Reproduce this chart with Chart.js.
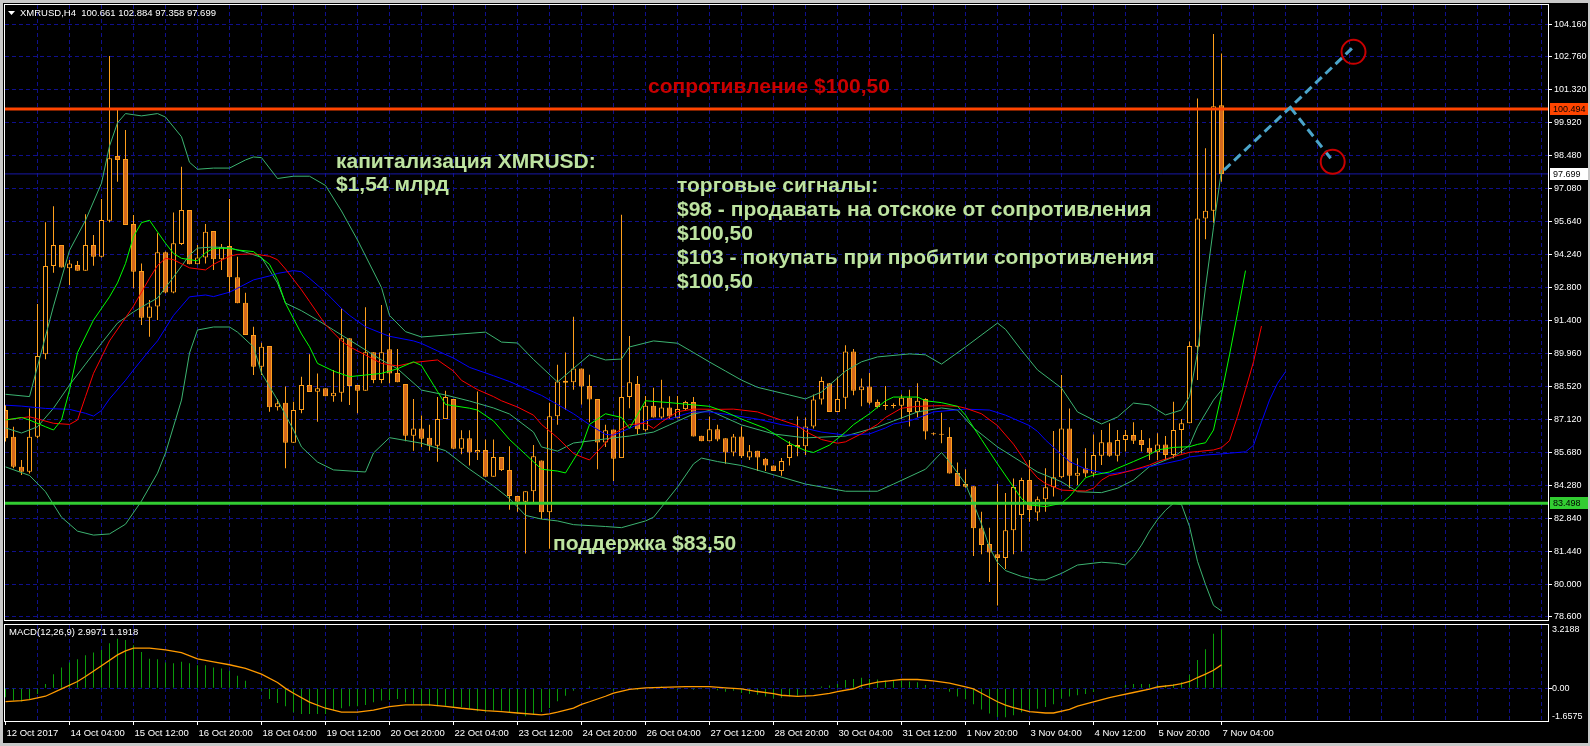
<!DOCTYPE html>
<html lang="ru">
<head>
<meta charset="utf-8">
<title>XMRUSD,H4</title>
<script src="https://cdn.jsdelivr.net/npm/chart.js@4.4.1/dist/chart.umd.min.js"></script>
<style>
  html, body { margin: 0; padding: 0; background: #c8c8c8; }
  #board { position: absolute; left: 3px; top: 3px; width: 1585px; height: 740px; background: #000; }
  canvas { position: absolute; left: 0; }
  #priceChart { top: 0; }
  #macdChart { top: 622px; }
</style>
</head>
<body>
<div id="board"></div>
<canvas id="priceChart" width="1590" height="622"></canvas>
<canvas id="macdChart" width="1590" height="124"></canvas>
<script>
// XMRUSD H4, 12 Oct 20:00 .. 7 Nov 04:00 2017, one bar = 4 hours, bar index used as x
const symbol = 'XMRUSD,H4';

const timeLabels = ['12 Oct 2017', '14 Oct 04:00', '15 Oct 12:00', '16 Oct 20:00', '18 Oct 04:00',
  '19 Oct 12:00', '20 Oct 20:00', '22 Oct 04:00', '23 Oct 12:00', '24 Oct 20:00', '26 Oct 04:00',
  '27 Oct 12:00', '28 Oct 20:00', '30 Oct 04:00', '31 Oct 12:00', '1 Nov 20:00', '3 Nov 04:00',
  '4 Nov 12:00', '5 Nov 20:00', '7 Nov 04:00'];
const barsPerLabel = 8;

const opens = [
  87.52, 86.37, 85.08, 84.86, 86.37, 89.92, 93.73, 94.63, 93.63, 93.77,
  93.53, 94.63, 94.13, 95.68, 98.47, 98.34, 95.54, 93.51, 91.50, 91.98,
  94.32, 92.59, 94.68, 96.14, 93.80, 94.10, 95.24, 94.02, 94.59, 93.24,
  92.15, 90.75, 89.39, 90.28, 87.64, 87.84, 86.11, 87.52, 88.60, 88.31,
  88.46, 88.12, 88.27, 90.61, 88.60, 88.35, 90.01, 88.81, 90.14, 89.12,
  88.64, 86.41, 86.73, 86.33, 85.98, 87.13, 88.00, 85.85, 86.30, 85.69,
  85.80, 84.65, 85.50, 84.94, 83.82, 83.57, 84.02, 85.34, 83.11, 87.25,
  88.78, 88.72, 89.31, 88.56, 88.00, 86.12, 86.68, 85.45, 88.08, 88.64,
  86.65, 87.71, 87.20, 87.63, 87.17, 87.56, 87.87, 86.41, 86.17, 86.69,
  86.30, 85.69, 86.38, 85.48, 85.77, 85.42, 85.13, 84.89, 85.45, 86.01,
  85.96, 86.81, 87.97, 88.67, 87.44, 88.05, 90.04, 88.37, 88.53, 87.87,
  87.73, 87.72, 87.71, 88.05, 87.44, 88.00, 86.50, 86.48, 86.36, 84.81,
  84.33, 84.24, 82.42, 81.75, 81.30, 81.14, 82.34, 83.00, 84.50, 83.10,
  83.67, 84.19, 84.62, 86.73, 84.69, 85.01, 84.79, 85.55, 86.13, 85.55,
  86.23, 86.44, 86.23, 85.90, 85.70, 86.04, 85.58, 86.66, 86.95, 90.25,
  95.78, 96.11, 100.661];
const highs = [
  87.74, 86.80, 85.37, 87.59, 92.09, 95.61, 96.31, 94.63, 93.99, 93.94,
  95.96, 95.07, 96.62, 102.78, 100.50, 99.59, 95.93, 93.84, 92.26, 95.14,
  94.35, 96.04, 98.01, 96.14, 94.63, 95.54, 95.24, 94.68, 96.62, 94.13,
  92.58, 91.11, 90.42, 90.28, 88.00, 88.53, 87.88, 88.96, 89.93, 89.10,
  88.46, 89.25, 91.90, 90.61, 88.60, 91.95, 90.01, 92.05, 90.83, 90.15,
  88.64, 88.00, 87.29, 86.89, 88.08, 88.35, 88.00, 86.65, 86.65, 88.32,
  86.25, 86.25, 85.50, 85.96, 83.82, 84.02, 86.01, 85.34, 87.84, 89.47,
  90.00, 91.54, 89.31, 89.04, 88.00, 86.89, 86.68, 95.94, 90.71, 88.99,
  88.13, 88.48, 88.83, 88.11, 88.13, 87.92, 88.08, 86.41, 87.24, 86.89,
  86.30, 86.49, 86.81, 86.01, 85.77, 85.45, 85.13, 85.45, 86.17, 87.24,
  87.20, 88.19, 88.96, 88.67, 88.96, 90.31, 90.15, 88.88, 89.12, 87.97,
  88.56, 87.81, 88.19, 88.40, 88.67, 88.03, 86.55, 87.40, 86.78, 85.26,
  84.97, 84.24, 83.14, 82.45, 84.33, 83.94, 84.57, 84.60, 85.37, 83.79,
  85.01, 86.62, 89.03, 87.59, 85.44, 85.87, 86.47, 86.66, 86.95, 86.66,
  86.66, 86.99, 86.66, 86.30, 86.52, 86.40, 87.88, 87.13, 90.47, 100.95,
  98.80, 103.73, 102.884];
const lows = [
  86.16, 85.01, 84.72, 84.79, 86.30, 89.71, 93.44, 93.66, 92.91, 93.53,
  93.53, 93.74, 94.10, 95.61, 97.36, 95.50, 92.77, 91.19, 90.68, 91.40,
  92.55, 92.55, 94.63, 93.80, 93.80, 93.84, 93.56, 93.56, 92.58, 92.12,
  90.75, 89.03, 89.03, 87.45, 87.50, 85.01, 86.11, 87.38, 88.30, 87.02,
  88.12, 87.88, 87.88, 87.74, 87.38, 88.35, 88.67, 88.67, 88.67, 88.72,
  86.17, 85.77, 85.93, 85.77, 85.29, 87.13, 85.85, 85.61, 85.13, 85.37,
  84.65, 84.65, 84.89, 83.22, 83.14, 81.34, 83.54, 82.82, 81.54, 86.89,
  87.52, 88.40, 87.76, 86.99, 84.97, 85.93, 84.46, 85.45, 87.60, 86.49,
  86.60, 87.20, 87.13, 87.13, 87.17, 87.52, 86.38, 86.17, 86.17, 86.17,
  85.21, 85.53, 85.45, 85.37, 84.89, 84.89, 84.89, 84.69, 85.13, 85.53,
  85.58, 86.73, 87.76, 87.44, 87.44, 87.57, 88.16, 87.68, 87.76, 87.60,
  87.52, 87.60, 87.13, 86.81, 87.20, 86.25, 86.43, 86.09, 84.78, 84.25,
  84.17, 81.23, 81.30, 80.11, 79.10, 80.67, 81.30, 81.42, 82.71, 82.75,
  83.14, 83.79, 84.58, 84.15, 84.29, 84.62, 84.65, 85.15, 85.51, 85.30,
  85.73, 86.06, 85.73, 85.37, 85.37, 85.37, 85.44, 85.65, 86.95, 88.81,
  94.88, 95.59, 97.358];
const closes = [
  86.30, 85.08, 84.86, 86.37, 89.85, 93.73, 94.63, 93.66, 93.84, 93.53,
  94.63, 94.13, 95.71, 98.37, 98.30, 95.50, 93.48, 91.50, 91.98, 94.32,
  92.59, 94.71, 96.14, 93.80, 94.10, 95.21, 94.02, 94.56, 93.24, 92.12,
  90.75, 89.39, 90.25, 87.64, 87.81, 86.11, 87.52, 88.60, 88.30, 88.46,
  88.12, 88.27, 90.61, 88.56, 88.35, 90.01, 88.81, 90.01, 89.10, 88.72,
  86.41, 86.73, 86.28, 85.98, 87.13, 88.08, 85.85, 86.30, 85.69, 85.80,
  84.65, 85.50, 84.94, 83.82, 83.57, 84.02, 85.53, 83.11, 87.25, 88.75,
  88.70, 89.31, 88.53, 87.97, 86.12, 86.65, 85.42, 88.08, 88.72, 86.69,
  87.71, 87.20, 87.63, 87.24, 87.56, 87.87, 86.38, 86.17, 86.69, 86.25,
  85.69, 86.38, 85.53, 85.74, 85.48, 85.13, 84.89, 85.32, 86.01, 85.93,
  86.81, 87.97, 88.77, 87.44, 88.00, 90.04, 88.35, 88.53, 87.84, 87.65,
  87.69, 87.70, 88.05, 87.44, 87.92, 86.60, 86.48, 86.46, 84.78, 84.25,
  84.21, 82.42, 81.70, 81.38, 81.14, 82.34, 84.20, 84.50, 83.21, 83.67,
  84.19, 84.62, 86.73, 84.69, 84.82, 84.79, 85.58, 86.13, 85.55, 86.23,
  86.44, 86.20, 86.01, 85.68, 86.04, 85.58, 86.66, 86.95, 90.28, 95.78,
  96.11, 100.62, 97.699];

// indicator curves as [bar, price]
const bbUpper = [[0, 88.2], [3, 88.1], [6, 92.0], [8, 94.4], [10, 95.7], [12, 97.3], [13, 98.9], [14, 99.9],
  [15, 100.3], [17, 100.2], [19, 100.3], [20, 100.15], [22, 99.3], [23, 98.2], [24, 97.9], [26, 97.95],
  [28, 97.95], [30, 98.3], [31, 98.43], [32, 98.4], [34, 97.5], [36, 97.6], [38, 97.6], [40, 97.2],
  [42, 96.1], [44, 94.85], [47, 92.8], [48, 91.6], [50, 90.9], [52, 90.67], [60, 90.88], [62, 90.45],
  [64, 90.41], [66, 89.7], [69, 88.73], [73, 89.9], [75, 89.68], [77, 89.72], [78, 90.24], [81, 90.5],
  [84, 90.4], [86, 90.0], [88, 89.59], [90, 89.2], [92, 88.81], [94, 88.5], [98, 88.17], [100, 88.0],
  [102, 88.3], [105, 89.2], [107, 89.6], [109, 89.81], [113, 89.94], [115, 89.9], [117, 89.5],
  [120, 90.24], [124, 91.27], [125, 91.0], [127, 90.1], [129, 89.25], [132, 88.47], [134, 87.44],
  [137, 86.92], [139, 87.22], [141, 87.82], [143, 87.74], [145, 87.31], [147, 87.52], [148, 88.1],
  [149, 90.0], [150, 92.8], [151, 95.4], [152, 97.86]];
const bbMiddle = [[0, 86.75], [2, 86.53], [4, 86.8], [6, 87.6], [8, 88.6], [10, 89.5], [12, 90.4],
  [14, 91.27], [16, 91.75], [17, 91.96], [19, 92.35], [21, 93.25], [23, 94.2], [24, 94.5], [26, 94.55],
  [28, 94.51], [30, 94.33], [32, 94.1], [34, 93.0], [35, 92.13], [37, 91.8], [39, 91.4], [41, 90.97],
  [43, 90.54], [45, 90.11], [47, 89.68], [49, 89.3], [52, 88.38], [55, 88.17], [58, 87.91], [61, 87.61],
  [63, 87.35], [66, 86.57], [67, 85.93], [69, 85.75], [71, 86.1], [74, 86.23], [76, 86.32], [78, 86.4],
  [81, 86.57], [83, 86.88], [86, 87.35], [88, 87.5], [92, 86.88], [96, 86.49], [100, 86.32],
  [105, 86.4], [109, 86.79], [111, 87.05], [114, 87.44], [117, 87.61], [119, 87.52], [121, 86.75],
  [124, 85.93], [127, 85.28], [129, 84.85], [132, 84.43], [134, 84.0], [137, 83.96], [139, 84.15],
  [141, 84.5], [143, 85.08], [146, 85.5], [148, 86.0], [149, 86.8], [151, 87.95], [152, 88.38]];
const bbLower = [[0, 85.07], [3, 84.7], [5, 84.0], [7, 82.9], [9, 82.3], [11, 82.13], [13, 82.18],
  [15, 82.6], [17, 83.6], [19, 84.8], [20, 85.67], [22, 87.95], [23, 89.98], [24, 90.97], [26, 91.1],
  [28, 91.1], [29, 90.88], [31, 90.24], [32, 89.12], [34, 87.95], [36, 86.66], [37, 85.93], [39, 85.28],
  [41, 84.94], [45, 84.85], [46, 85.67], [48, 86.33], [52, 86.09], [55, 85.77], [58, 84.97], [61, 84.25],
  [63, 83.7], [65, 82.98], [67, 82.82], [69, 82.74], [71, 82.58], [75, 82.5], [77, 82.45], [80, 82.74],
  [81, 82.9], [84, 84.2], [86, 85.2], [87, 85.45], [89, 85.3], [92, 85.13], [96, 84.73], [100, 84.33],
  [105, 84.02], [109, 84.02], [111, 84.33], [115, 84.97], [117, 85.69], [118, 85.29], [120, 84.33],
  [121, 83.5], [122, 82.6], [123, 81.6], [124, 80.95], [125, 80.6], [127, 80.35], [129, 80.2],
  [130, 80.2], [132, 80.48], [134, 80.84], [137, 80.96], [139, 80.91], [140, 80.84], [141, 81.2],
  [142, 81.7], [143, 82.3], [144, 82.8], [145, 83.2], [146, 83.5], [147, 83.45], [148, 82.5],
  [149, 81.0], [150, 80.0], [151, 79.1], [152, 78.86]];
const jaw = [[0, 87.73], [2, 87.69], [5, 87.59], [8, 87.55], [10, 87.38], [11, 87.26], [12, 87.5],
  [13, 88.0], [15, 88.8], [16, 89.25], [18, 90.1], [19, 90.5], [21, 91.6], [22, 92.0], [23, 92.4],
  [25, 92.48], [26, 92.41], [28, 92.6], [29, 92.77], [31, 93.13], [33, 93.3], [34, 93.41], [36, 93.53],
  [37, 93.48], [38, 93.2], [40, 92.6], [42, 91.9], [43, 91.6], [45, 91.11], [47, 90.83], [48, 90.7],
  [51, 90.5], [52, 90.39], [54, 90.07], [56, 89.76], [58, 89.36], [61, 89.0], [63, 88.75], [65, 88.45],
  [67, 88.15], [69, 87.76], [71, 87.36], [73, 86.89], [75, 86.47], [76, 86.44], [78, 86.73], [80, 87.05],
  [81, 87.13], [83, 87.13], [85, 87.35], [86, 87.44], [88, 87.44], [91, 87.29], [94, 87.13], [97, 86.89],
  [100, 86.73], [102, 86.57], [105, 86.44], [108, 86.49], [110, 86.75], [111, 86.92], [113, 87.05],
  [115, 87.3], [116, 87.44], [120, 87.56], [123, 87.52], [125, 87.3], [126, 87.15], [128, 86.85],
  [129, 86.6], [130, 86.23], [132, 85.6], [133, 85.3], [135, 84.98], [137, 84.82], [138, 84.76],
  [140, 84.86], [142, 85.01], [143, 85.08], [145, 85.22], [147, 85.37], [148, 85.5], [150, 85.58],
  [152, 85.63], [153, 85.66], [155, 85.72], [156, 86.0], [157, 87.0], [158, 87.95], [159, 88.67],
  [160, 89.17]];
const teeth = [[0, 87.09], [3, 87.23], [6, 86.95], [8, 86.9], [9, 87.09], [10, 88.1], [11, 89.1],
  [13, 90.5], [15, 91.5], [16, 92.0], [18, 93.2], [19, 93.75], [20, 94.06], [21, 94.0], [23, 93.65],
  [25, 93.56], [26, 93.8], [28, 94.15], [29, 94.23], [31, 94.25], [33, 94.15], [34, 94.0], [35, 93.6],
  [37, 92.7], [38, 92.2], [40, 91.2], [42, 90.5], [43, 90.25], [45, 89.89], [47, 89.53], [49, 89.42],
  [51, 89.57], [54, 89.68], [56, 89.2], [57, 88.8], [59, 88.4], [61, 88.1], [62, 87.92], [64, 87.65],
  [66, 87.3], [67, 86.9], [69, 86.33], [71, 85.65], [72, 85.5], [73, 85.37], [75, 86.1], [76, 86.5],
  [78, 86.89], [80, 86.95], [81, 86.73], [82, 87.0], [84, 87.45], [86, 87.56], [89, 87.55], [91, 87.56],
  [94, 87.44], [96, 87.2], [99, 86.85], [100, 86.6], [102, 86.25], [104, 86.09], [105, 86.15],
  [107, 86.5], [109, 86.9], [110, 87.2], [112, 87.6], [114, 87.68], [117, 87.71], [119, 87.68],
  [120, 87.6], [122, 87.36], [124, 86.85], [126, 86.05], [127, 85.55], [128, 85.0], [129, 84.6],
  [130, 84.35], [132, 84.07], [134, 84.04], [135, 84.03], [136, 84.15], [137, 84.5], [138, 84.7],
  [139, 84.76], [141, 84.94], [143, 85.15], [144, 85.3], [146, 85.51], [148, 85.7], [149, 85.73],
  [151, 85.8], [152, 85.9], [153, 86.2], [154, 87.24], [155, 88.4], [156, 89.6], [157, 91.14]];
const lips = [[0, 87.09], [2, 87.2], [3, 87.09], [5, 86.8], [6, 86.66], [7, 87.09], [8, 88.38],
  [9, 90.0], [11, 91.4], [13, 92.4], [14, 93.0], [15, 93.84], [16, 95.0], [17, 95.6], [18, 95.7],
  [19, 95.2], [20, 94.71], [21, 94.27], [22, 94.06], [24, 93.95], [25, 94.3], [26, 94.49], [28, 94.49],
  [29, 94.42], [31, 94.35], [33, 93.8], [34, 93.13], [35, 92.12], [37, 90.8], [38, 90.25], [39, 89.53],
  [41, 89.2], [43, 88.96], [45, 89.03], [47, 89.1], [49, 89.3], [51, 89.6], [52, 89.44], [54, 88.32],
  [55, 87.76], [58, 87.6], [59, 87.52], [61, 87.05], [63, 86.25], [65, 85.61], [67, 84.97], [69, 84.89],
  [70, 84.81], [72, 85.93], [73, 86.9], [75, 87.36], [77, 87.2], [78, 86.73], [80, 87.92], [83, 87.84],
  [88, 87.68], [90, 87.44], [92, 87.13], [95, 86.73], [98, 86.09], [100, 85.77], [101, 85.69],
  [103, 86.01], [105, 86.57], [106, 86.89], [108, 87.36], [110, 87.92], [111, 88.08], [114, 88.08],
  [115, 87.92], [117, 87.84], [119, 87.68], [120, 87.3], [122, 86.25], [124, 85.2], [126, 84.2],
  [127, 83.7], [128, 83.43], [130, 83.36], [132, 83.5], [133, 83.79], [135, 84.6], [136, 84.72],
  [138, 84.85], [139, 85.01], [141, 85.3], [143, 85.6], [144, 85.8], [146, 85.91], [148, 85.94],
  [149, 86.04], [150, 86.11], [151, 86.66], [152, 88.2], [153, 89.9], [154, 91.69], [155, 93.53]];

// MACD(12,26,9): main as histogram, one value per bar; signal as [bar, value]
const macdHist = [
  -0.45, -0.62, -0.67, -0.54, -0.29, 0.22, 0.72, 1.06, 1.31, 1.48,
  1.68, 1.82, 1.95, 2.29, 2.52, 2.46, 2.19, 1.85, 1.51, 1.48,
  1.31, 1.28, 1.35, 1.28, 1.18, 1.18, 1.06, 1.01, 0.89, 0.64,
  0.39, 0.03, -0.12, -0.54, -0.74, -0.91, -1.21, -1.30, -1.30, -1.30,
  -1.30, -1.13, -1.01, -0.91, -0.91, -0.84, -0.71, -0.62, -0.59, -0.54,
  -0.71, -0.79, -0.88, -0.88, -0.91, -0.88, -0.96, -0.96, -1.04, -1.16,
  -1.21, -1.13, -1.13, -1.21, -1.30, -1.41, -1.35, -1.20, -1.00, -0.65,
  -0.38, -0.12, 0.02, 0.09, 0.01, 0.02, -0.12, 0.05, 0.05, -0.07,
  0.05, -0.03, 0.10, -0.03, -0.07, 0.03, -0.07, -0.03, -0.03, -0.09,
  -0.17, -0.12, -0.24, -0.29, -0.33, -0.41, -0.52, -0.48, -0.41, -0.38,
  -0.29, -0.07, 0.10, 0.14, 0.22, 0.43, 0.48, 0.54, 0.48, 0.45,
  0.40, 0.40, 0.40, 0.35, 0.31, 0.17, 0.05, -0.03, -0.17, -0.41,
  -0.55, -0.81, -1.07, -1.28, -1.45, -1.47, -1.37, -1.21, -1.07, -1.04,
  -0.95, -0.81, -0.52, -0.41, -0.35, -0.29, -0.19, -0.03, 0.01, 0.05,
  0.17, 0.22, 0.22, 0.22, 0.17, 0.17, 0.22, 0.31, 0.69, 1.44,
  1.99, 2.77, 2.9971];
const macdSignal = [[0, -0.67], [2, -0.62], [3, -0.57], [5, -0.40], [7, -0.03], [9, 0.35], [10, 0.6],
  [12, 1.15], [14, 1.7], [15, 1.9], [16, 2.04], [18, 2.04], [20, 1.96], [22, 1.82], [24, 1.5], [26, 1.35],
  [28, 1.2], [30, 1.01], [32, 0.72], [34, 0.3], [35, 0.0], [36, -0.25], [38, -0.7], [40, -1.01],
  [42, -1.21], [44, -1.21], [46, -1.1], [48, -0.93], [50, -0.84], [53, -0.84], [55, -0.91], [57, -1.01],
  [60, -1.13], [62, -1.18], [64, -1.25], [67, -1.35], [68, -1.30], [69, -1.21], [71, -1.0], [72, -0.81],
  [73, -0.68], [75, -0.4], [76, -0.24], [78, -0.05], [80, 0.03], [82, 0.05], [85, 0.09], [88, 0.09],
  [90, 0.03], [92, -0.03], [94, -0.16], [96, -0.27], [97, -0.35], [99, -0.41], [101, -0.37],
  [103, -0.25], [104, -0.17], [106, -0.02], [107, 0.14], [109, 0.32], [111, 0.41], [112, 0.45],
  [114, 0.45], [116, 0.38], [118, 0.27], [120, 0.08], [121, -0.03], [122, -0.25], [124, -0.68],
  [125, -0.85], [126, -0.98], [128, -1.18], [130, -1.25], [131, -1.25], [133, -1.07], [134, -0.9],
  [136, -0.69], [138, -0.47], [139, -0.38], [141, -0.21], [143, -0.04], [144, 0.07], [146, 0.17],
  [147, 0.24], [148, 0.35], [149, 0.55], [150, 0.72], [151, 0.92], [152, 1.1918]];

const priceTicks = [104.16, 102.76, 101.32, 99.92, 98.48, 97.08, 95.64, 94.24, 92.80, 91.40,
  89.96, 88.52, 87.12, 85.68, 84.28, 82.84, 81.44, 80.00, 78.60];
const macdTicks = [3.2188, 0, -1.6575];

const resistanceLevel = 100.494;
const supportLevel = 83.498;
// hand drawn forecast: from last close to the breakout point, then up or back down
const projectionUp = [[152.3, 97.86], [160.6, 100.57], [168.3, 103.11]];
const projectionDown = [[160.6, 100.57], [166, 98.22]];
const targets = [[168.5, 102.96], [165.9, 98.22]];

// ---- looks ----
const X_MIN = -0.0625, X_MAX = 192.8125;   // 8 px per bar
const PRICE_MIN = 78.47, PRICE_MAX = 104.98;
const GRID = '#10108c';
const FRAME = '#ffffff';
const TEXT = '#ffffff';
const WICK = '#ff9f1c';
const BEAR = '#d2691e';
const BAND = '#3cb371';
const RES_COLOR = '#ff4500';
const SUP_COLOR = '#32cd32';
const NOTE = '#bde3a0';
const NOTE_RED = '#c80000';
const HIDDEN = 'rgba(0,0,0,0)';
const SMALL_FONT = '9.5px "Liberation Sans"';

Chart.defaults.font.family = '"Liberation Sans", Arial, sans-serif';

const annotations = [
  { text: 'сопротивление $100,50', x: 648, y: 93, color: NOTE_RED },
  { text: 'капитализация XMRUSD:', x: 336, y: 168, color: NOTE },
  { text: '$1,54 млрд', x: 336, y: 191, color: NOTE },
  { text: 'торговые сигналы:', x: 677, y: 192, color: NOTE },
  { text: '$98 - продавать на отскоке от сопротивления', x: 677, y: 216, color: NOTE },
  { text: '$100,50', x: 677, y: 240, color: NOTE },
  { text: '$103 - покупать при пробитии сопротивления', x: 677, y: 264, color: NOTE },
  { text: '$100,50', x: 677, y: 288, color: NOTE },
  { text: 'поддержка $83,50', x: 553, y: 550, color: NOTE },
];

const bars = opens.map((_, i) => i);
const pts = arr => arr.map(([x, y]) => ({ x, y }));
const lineSet = (data, color, width, order) => ({
  type: 'line', data: pts(data), borderColor: color, borderWidth: width,
  pointRadius: 0, tension: 0, fill: false, order
});
const levelSet = (level, color, width, order) =>
  lineSet([[X_MIN - 1, level], [X_MAX + 1, level]], color, width, order);

function gridTicks(from) {
  const out = [];
  for (let v = from; v <= X_MAX; v += 4) out.push({ value: v });
  return out;
}
function noPadding(s) {
  s.paddingTop = 0; s.paddingBottom = 0; s.paddingLeft = 0; s.paddingRight = 0;
}
function frame(ctx, a) {
  ctx.strokeStyle = FRAME;
  ctx.lineWidth = 1;
  ctx.strokeRect(a.left - 0.5, a.top - 0.5, a.right - a.left + 1, a.bottom - a.top + 1);
}

const pricePanel = {
  id: 'pricePanel',
  afterDatasetsDraw(chart) {
    const ctx = chart.ctx;
    ctx.save();
    ctx.font = 'bold 21px "Liberation Sans"';
    ctx.textBaseline = 'alphabetic';
    annotations.forEach(n => {
      ctx.fillStyle = n.color;
      ctx.fillText(n.text, n.x, n.y);
    });
    ctx.restore();
  },
  afterDraw(chart) {
    const { ctx, chartArea: a, scales } = chart;
    const last = opens.length - 1;
    ctx.save();
    frame(ctx, a);

    // header
    ctx.fillStyle = TEXT;
    ctx.beginPath();
    ctx.moveTo(8, 11); ctx.lineTo(15, 11); ctx.lineTo(11.5, 15); ctx.closePath();
    ctx.fill();
    ctx.font = SMALL_FONT;
    ctx.textBaseline = 'alphabetic';
    const ohlc = [opens[last], highs[last], lows[last], closes[last]].map(v => v.toFixed(3)).join(' ');
    ctx.fillText(symbol + '  ' + ohlc, 20, 16);

    // price tags on the axis
    const tags = [
      { value: resistanceLevel, back: RES_COLOR },
      { value: closes[last], back: '#ffffff' },
      { value: supportLevel, back: SUP_COLOR },
    ];
    ctx.font = '9px "Liberation Sans"';
    ctx.textBaseline = 'middle';
    tags.forEach(t => {
      const y = Math.round(scales.y.getPixelForValue(t.value));
      ctx.fillStyle = t.back;
      ctx.fillRect(a.right + 2, y - 6, 38, 12);
      ctx.fillStyle = '#000';
      ctx.fillText(t.value.toFixed(3), a.right + 5, y + 0.5);
    });
    ctx.restore();
  }
};

new Chart(document.getElementById('priceChart'), {
  type: 'line',
  data: {
    datasets: [
      lineSet([[X_MIN - 1, closes[closes.length - 1]], [X_MAX + 1, closes[closes.length - 1]]], '#1818a8', 1, 30),
      {
        type: 'bar', data: bars.map(i => ({ x: i, y: [lows[i], highs[i]] })),
        backgroundColor: WICK, barThickness: 1, grouped: false, inflateAmount: 0, order: 20
      },
      {
        type: 'bar', data: bars.map(i => ({ x: i, y: [opens[i], closes[i]] })),
        backgroundColor: bars.map(i => closes[i] >= opens[i] ? '#000000' : BEAR),
        borderColor: WICK, borderWidth: 1, borderSkipped: false,
        barThickness: 5, grouped: false, minBarLength: 1, inflateAmount: 0, order: 19
      },
      lineSet(bbUpper, BAND, 1, 12),
      lineSet(bbMiddle, BAND, 1, 12),
      lineSet(bbLower, BAND, 1, 12),
      lineSet(jaw, '#0000ff', 1, 11),
      lineSet(teeth, '#ff0000', 1, 10),
      lineSet(lips, '#00ff00', 1, 9),
      levelSet(resistanceLevel, RES_COLOR, 3, 5),
      levelSet(supportLevel, SUP_COLOR, 3, 5),
      Object.assign(lineSet(projectionUp, '#4ba5ca', 3, 2), { borderDash: [9, 5] }),
      Object.assign(lineSet(projectionDown, '#4ba5ca', 3, 2), { borderDash: [9, 5] }),
      {
        type: 'line', data: pts(targets), showLine: false, pointStyle: 'circle',
        pointRadius: 12, pointBorderWidth: 2, pointBorderColor: '#c80000',
        pointBackgroundColor: HIDDEN, order: 1
      }
    ]
  },
  options: {
    responsive: false,
    animation: false,
    devicePixelRatio: 1,
    events: [],
    layout: { autoPadding: false, padding: { left: 5, top: 5, right: 0, bottom: 2 } },
    plugins: { legend: { display: false }, tooltip: { enabled: false } },
    scales: {
      x: {
        type: 'linear', min: X_MIN, max: X_MAX, offset: false,
        afterBuildTicks: s => { s.ticks = gridTicks(4); },
        afterFit: s => { s.height = 0; noPadding(s); },
        ticks: { display: false },
        grid: { color: GRID, drawTicks: false, offset: false },
        border: { display: false, dash: [4, 3] }
      },
      y: {
        type: 'linear', position: 'right', min: PRICE_MIN, max: PRICE_MAX,
        afterBuildTicks: s => { s.ticks = priceTicks.map(v => ({ value: v })); },
        afterFit: s => { s.width = 42; noPadding(s); },
        ticks: {
          color: TEXT, font: { size: 9 }, padding: 2, crossAlign: 'near',
          callback: v => Number(v).toFixed(3)
        },
        grid: { color: GRID, tickColor: FRAME, tickLength: 4 },
        border: { display: false, dash: [4, 3] }
      }
    }
  },
  plugins: [pricePanel]
});

const macdPanel = {
  id: 'macdPanel',
  afterDraw(chart) {
    const { ctx, chartArea: a, scales } = chart;
    const last = macdHist.length - 1;
    ctx.save();
    frame(ctx, a);
    ctx.fillStyle = TEXT;
    ctx.font = SMALL_FONT;
    ctx.textBaseline = 'alphabetic';
    ctx.fillText('MACD(12,26,9) ' + macdHist[last].toFixed(4) + ' ' +
      macdSignal[macdSignal.length - 1][1].toFixed(4), a.left + 4, a.top + 10);
    ctx.font = '9px "Liberation Sans"';
    ctx.textBaseline = 'middle';
    macdTicks.forEach(v => {
      let y = scales.y.getPixelForValue(v);
      y = Math.min(Math.max(y, a.top + 5), a.bottom - 4);
      ctx.fillText(v === 0 ? '0.00' : v.toFixed(4), a.right + 4, y);
    });
    ctx.restore();
  }
};

new Chart(document.getElementById('macdChart'), {
  type: 'line',
  data: {
    datasets: [
      {
        type: 'bar', data: macdHist.map((v, i) => ({ x: i, y: v })),
        backgroundColor: '#0a9a0a', barThickness: 1, grouped: false, inflateAmount: 0, order: 2
      },
      lineSet(macdSignal, '#ff9a00', 1.3, 1)
    ]
  },
  options: {
    responsive: false,
    animation: false,
    devicePixelRatio: 1,
    events: [],
    layout: { autoPadding: false, padding: { left: 5, top: 3, right: 0, bottom: 0 } },
    plugins: { legend: { display: false }, tooltip: { enabled: false } },
    scales: {
      x: {
        type: 'linear', min: X_MIN, max: X_MAX, offset: false,
        afterBuildTicks: s => { s.ticks = gridTicks(0); },
        afterFit: s => { s.height = 25; noPadding(s); },
        ticks: {
          color: TEXT, font: { size: 9.5 }, padding: 3, align: 'start', labelOffset: 1,
          maxRotation: 0, minRotation: 0, autoSkip: false,
          callback: v => (v % barsPerLabel === 0 && timeLabels[v / barsPerLabel]) ? timeLabels[v / barsPerLabel] : ''
        },
        grid: {
          offset: false, tickLength: 4,
          color: c => (c.tick && c.tick.value === 0) ? HIDDEN : GRID,
          tickColor: c => (c.tick && c.tick.value % barsPerLabel === 0 && timeLabels[c.tick.value / barsPerLabel]) ? FRAME : HIDDEN
        },
        border: { display: false, dash: [4, 3] }
      },
      y: {
        type: 'linear', position: 'right', min: -1.6575, max: 3.2188,
        afterBuildTicks: s => { s.ticks = macdTicks.map(v => ({ value: v })); },
        afterFit: s => { s.width = 42; noPadding(s); },
        ticks: { display: false },
        grid: {
          tickLength: 4,
          color: c => (c.tick && c.tick.value === 0) ? GRID : HIDDEN,
          tickColor: c => (c.tick && c.tick.value === 0) ? FRAME : HIDDEN
        },
        border: { display: false, dash: [4, 3] }
      }
    }
  },
  plugins: [macdPanel]
});
</script>
</body>
</html>
